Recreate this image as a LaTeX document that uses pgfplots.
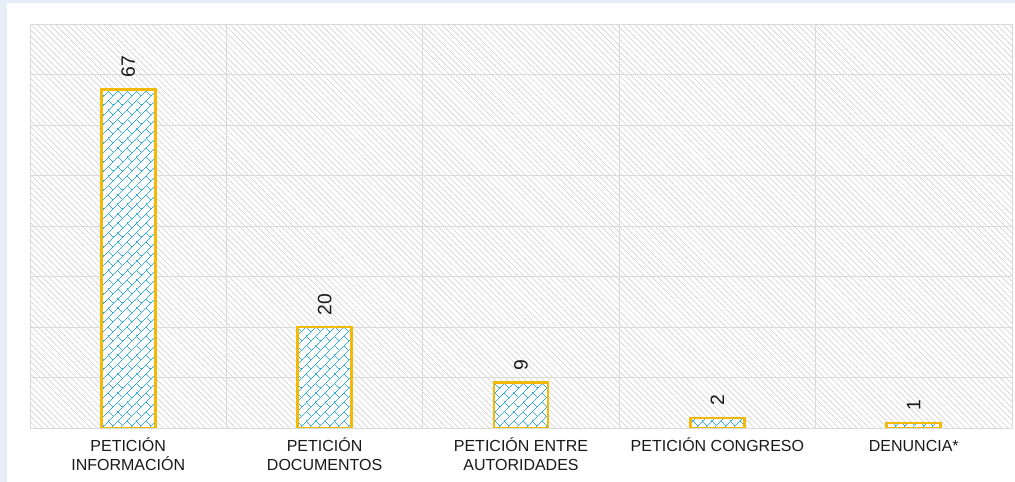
\documentclass[border=0pt]{standalone}
\usepackage{fontspec}
\setmainfont{Liberation Sans}
\usepackage{pgfplots}
\pgfplotsset{compat=1.18}
\usetikzlibrary{patterns,patterns.meta}

\definecolor{framebg}{HTML}{E6EEFA}
\definecolor{gridgray}{HTML}{DADADA}
\definecolor{hatchgray}{HTML}{D4D4D4}
\definecolor{bargold}{HTML}{F4B806}
\definecolor{brickblue}{HTML}{2FADE0}

% bricks laid at 45 degrees, as in the bar fill
\tikzdeclarepattern{
  name=rotbricks,
  type=uncolored,
  bounding box={(-0.5pt,-0.5pt) and (10.5pt,10.5pt)},
  tile size={(10pt,10pt)},
  tile transformation={rotate=45},
  code={
    \tikzset{line width=0.9pt}
    \draw (0pt,0pt) -- (10pt,0pt);
    \draw (0pt,5pt) -- (10pt,5pt);
    \draw (0pt,0pt) -- (0pt,5pt);
    \draw (5pt,5pt) -- (5pt,10pt);
  }
}

\pgfplotstableread{
x y
0 67
1 20
2 9
3 2
4 1
}\counts

\begin{document}
\begin{tikzpicture}
% outer panel
\fill[framebg] (-22.5pt,-40.5pt) rectangle (738.75pt,321pt);
\fill[white] (-17.25pt,-40.5pt) rectangle (738.75pt,318.75pt);
\begin{axis}[
    at={(0,0)}, anchor=south west,
    scale only axis,
    width=736.5pt, height=303pt,
    ybar,
    bar width=40.5pt,
    bar shift=0pt,
    xmin=-0.5, xmax=4.5,
    ymin=0, ymax=80,
    xtick={0,1,2,3,4},
    xticklabels={{PETICIÓN\\INFORMACIÓN},{PETICIÓN\\DOCUMENTOS},{PETICIÓN ENTRE\\AUTORIDADES},{PETICIÓN CONGRESO},{\vphantom{Ó}DENUNCIA*}},
    minor xtick={0.5,1.5,2.5,3.5},
    xminorgrids,
    ytick={0,10,...,80},
    yticklabels={},
    ymajorgrids,
    major tick length=0pt, minor tick length=0pt,
    grid style={gridgray, line width=0.6pt},
    minor grid style={gridgray, line width=0.6pt},
    axis line style={gridgray, line width=0.6pt},
    axis background/.style={fill=white, postaction={pattern={Lines[angle=-45,distance=3.2pt,line width=0.5pt]}, pattern color=hatchgray}},
    xticklabel style={align=center, anchor=north, yshift=-4pt, font=\fontsize{12}{14.3}\selectfont, text=black!90},
    /pgf/number format/assume math mode=true,
]
% white ground under the bricks
\addplot[fill=white, draw=none] table[x=x, y=y] {\counts};
\addplot[draw=bargold, line width=2pt,
    pattern=rotbricks, pattern color=brickblue,
    nodes near coords,
    nodes near coords style={rotate=90, anchor=west, inner sep=0pt, xshift=8pt, font=\fontsize{14.5}{14.5}\selectfont, text=black!90}]
    table[x=x, y=y] {\counts};
\end{axis}
\end{tikzpicture}
\end{document}
